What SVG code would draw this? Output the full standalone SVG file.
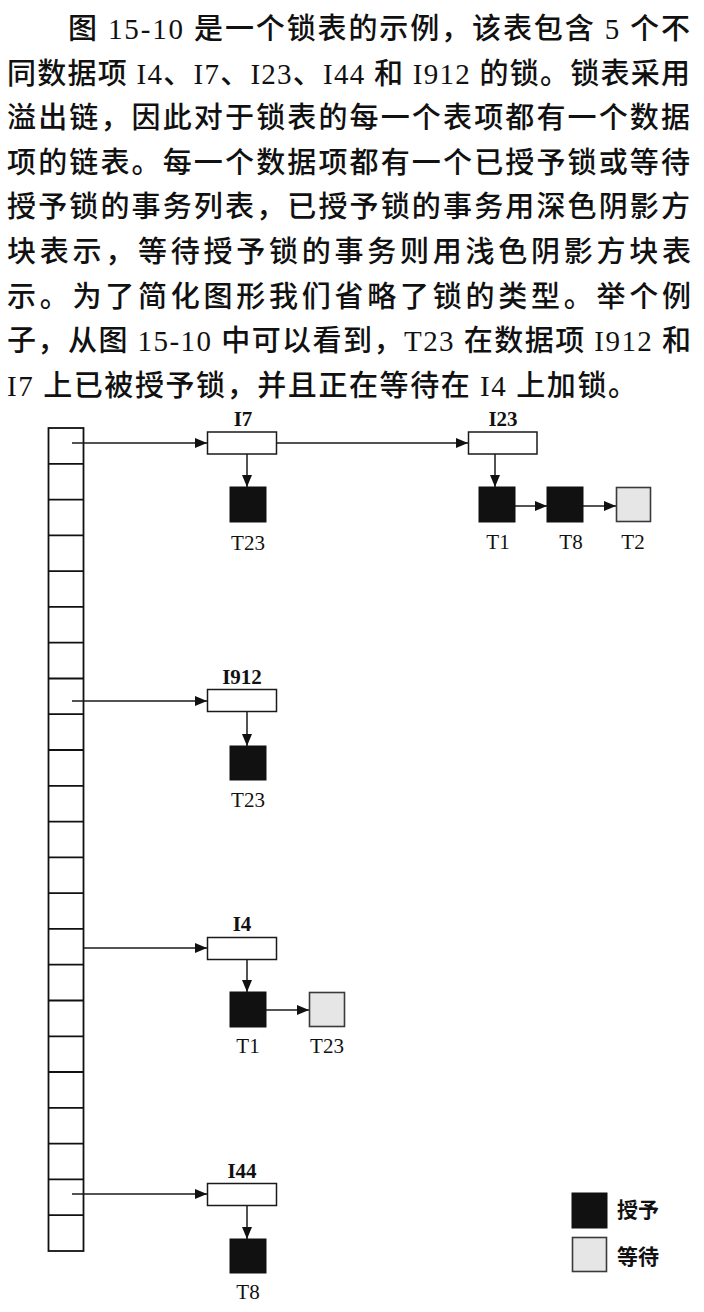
<svg xmlns="http://www.w3.org/2000/svg" width="704" height="1312" viewBox="0 0 704 1312">
<style>
.para{font-family:'Liberation Serif','Noto Sans CJK SC',serif;font-size:29px;font-weight:500;fill:#111}
.lbl{font-family:'Liberation Serif','Noto Sans CJK SC',serif;font-size:21px;font-weight:bold;fill:#111;text-anchor:middle}
.tl{font-family:'Liberation Serif','Noto Sans CJK SC',serif;font-size:21px;fill:#111;text-anchor:middle}
.leg{font-family:'Noto Sans CJK SC',sans-serif;font-size:21px;font-weight:bold;fill:#111}
.box{fill:#fff;stroke:#1a1a1a;stroke-width:1.5}
.grant{fill:#111;stroke:#111;stroke-width:1}
.wait{fill:#e6e6e6;stroke:#3a3a3a;stroke-width:1.6}
.conn{fill:none;stroke:#1a1a1a;stroke-width:1.5;marker-end:url(#ah)}
.tbl{fill:#fff;stroke:#111;stroke-width:1.8}
</style>
<defs>
<marker id="ah" markerUnits="userSpaceOnUse" markerWidth="12" markerHeight="10" refX="12" refY="5" orient="auto">
<path d="M0,0 L12,5 L0,10 z" fill="#111"/>
</marker>
</defs>
<rect width="704" height="1312" fill="#fff"/>
<g id="paragraph">
<text class="para" x="68" y="39" textLength="622">图 15-10 是一个锁表的示例，该表包含 5 个不</text>
<text class="para" x="7" y="84" textLength="683">同数据项 I4、I7、I23、I44 和 I912 的锁。锁表采用</text>
<text class="para" x="7" y="128" textLength="683">溢出链，因此对于锁表的每一个表项都有一个数据</text>
<text class="para" x="7" y="173" textLength="683">项的链表。每一个数据项都有一个已授予锁或等待</text>
<text class="para" x="7" y="217" textLength="683">授予锁的事务列表，已授予锁的事务用深色阴影方</text>
<text class="para" x="7" y="262" textLength="684">块表示，等待授予锁的事务则用浅色阴影方块表</text>
<text class="para" x="7" y="307" textLength="684">示。为了简化图形我们省略了锁的类型。举个例</text>
<text class="para" x="7" y="351" textLength="684">子，从图 15-10 中可以看到，T23 在数据项 I912 和</text>
<text class="para" x="7" y="396" textLength="630">I7 上已被授予锁，并且正在等待在 I4 上加锁。</text>
</g>
<g id="lock-table">
<rect class="tbl" x="48.5" y="428" width="35" height="823"/>
<path fill="none" stroke="#111" stroke-width="1.8" d="M48.5,463.8H83.5M48.5,499.6H83.5M48.5,535.3H83.5M48.5,571.1H83.5M48.5,606.9H83.5M48.5,642.7H83.5M48.5,678.5H83.5M48.5,714.2H83.5M48.5,750H83.5M48.5,785.8H83.5M48.5,821.6H83.5M48.5,857.4H83.5M48.5,893.1H83.5M48.5,928.9H83.5M48.5,964.7H83.5M48.5,1000.5H83.5M48.5,1036.3H83.5M48.5,1072H83.5M48.5,1107.8H83.5M48.5,1143.6H83.5M48.5,1179.4H83.5M48.5,1215.2H83.5"/>
</g>
<g id="connectors">
<path class="conn" d="M72,443H207"/>
<path class="conn" d="M277,443H468"/>
<path class="conn" d="M247,454V487"/>
<path class="conn" d="M495,454V487"/>
<path class="conn" d="M515,506H547"/>
<path class="conn" d="M583,506H616"/>
<path class="conn" d="M72,701H207"/>
<path class="conn" d="M247,712V746"/>
<path class="conn" d="M83.5,948H207"/>
<path class="conn" d="M247,960V992"/>
<path class="conn" d="M266,1010H309"/>
<path class="conn" d="M72,1194H207"/>
<path class="conn" d="M247,1206V1239"/>
</g>
<g id="item-I7">
<rect class="box" x="207.5" y="432" width="69" height="22"/>
<text class="lbl" x="243" y="426">I7</text>
</g>
<g id="I7-T23">
<rect class="grant" x="230" y="487" width="36" height="35"/>
<text class="tl" x="248" y="550">T23</text>
</g>
<g id="item-I23">
<rect class="box" x="468.5" y="432" width="68.5" height="22"/>
<text class="lbl" x="503" y="426">I23</text>
</g>
<g id="I23-T1">
<rect class="grant" x="479" y="487" width="36" height="35"/>
<text class="tl" x="498" y="549">T1</text>
</g>
<g id="I23-T8">
<rect class="grant" x="547" y="487" width="36" height="35"/>
<text class="tl" x="571" y="549">T8</text>
</g>
<g id="I23-T2">
<rect class="wait" x="616.5" y="487.5" width="34" height="34"/>
<text class="tl" x="633" y="549">T2</text>
</g>
<g id="item-I912">
<rect class="box" x="207.5" y="689.5" width="69" height="22"/>
<text class="lbl" x="242" y="684">I912</text>
</g>
<g id="I912-T23">
<rect class="grant" x="230" y="746" width="36" height="34"/>
<text class="tl" x="248" y="807">T23</text>
</g>
<g id="item-I4">
<rect class="box" x="207.5" y="937.5" width="69" height="22"/>
<text class="lbl" x="242" y="931">I4</text>
</g>
<g id="I4-T1">
<rect class="grant" x="230" y="992" width="36" height="35"/>
<text class="tl" x="248" y="1053">T1</text>
</g>
<g id="I4-T23">
<rect class="wait" x="309.5" y="992.5" width="35" height="34"/>
<text class="tl" x="327" y="1053">T23</text>
</g>
<g id="item-I44">
<rect class="box" x="207.5" y="1183.5" width="69" height="22"/>
<text class="lbl" x="242" y="1178">I44</text>
</g>
<g id="I44-T8">
<rect class="grant" x="230" y="1239" width="36" height="34"/>
<text class="tl" x="248" y="1299">T8</text>
</g>
<g id="legend">
<rect class="grant" x="572" y="1193" width="35" height="35"/>
<text class="leg" x="617" y="1217">授予</text>
<rect class="wait" x="572.5" y="1237.5" width="34" height="34"/>
<text class="leg" x="617" y="1264">等待</text>
</g>
</svg>
